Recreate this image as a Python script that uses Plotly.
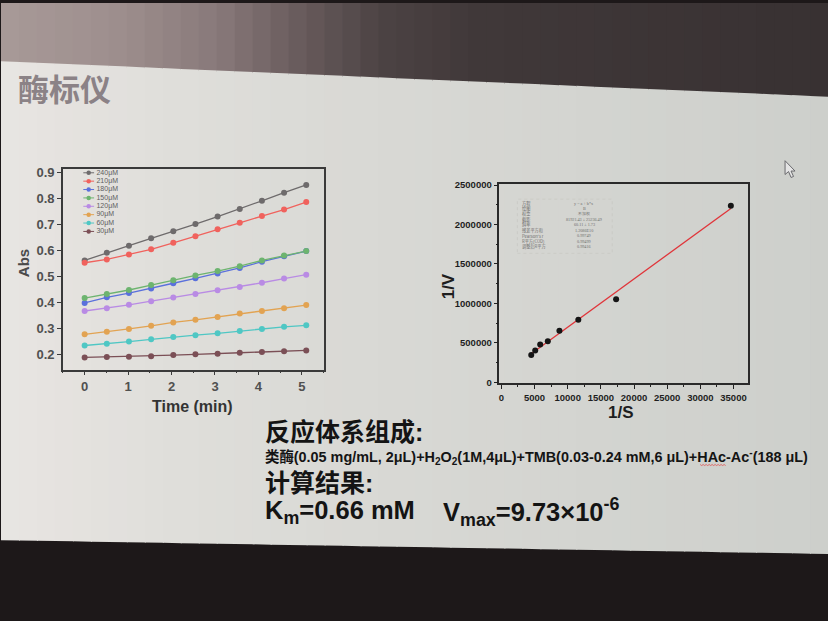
import plotly.graph_objects as go
import numpy as np

W, H = 828, 621


def PX(x):
    return x / W


def PY(y):
    return 1 - y / H


# ---------------- data: kinetics (Abs vs time) ----------------
time_min = [0, 0.51, 1.02, 1.53, 2.04, 2.55, 3.06, 3.57, 4.08, 4.59, 5.10]
series_names = ["240μM", "210μM", "180μM", "150μM", "120μM", "90μM", "60μM", "30μM"]
abs_240 = [0.561, 0.591, 0.618, 0.646, 0.673, 0.701, 0.730, 0.759, 0.791, 0.822, 0.852]
abs_210 = [0.552, 0.565, 0.584, 0.604, 0.629, 0.654, 0.681, 0.706, 0.732, 0.757, 0.786]
abs_180 = [0.397, 0.419, 0.435, 0.453, 0.473, 0.492, 0.511, 0.532, 0.556, 0.577, 0.597]
abs_150 = [0.416, 0.432, 0.447, 0.466, 0.485, 0.503, 0.520, 0.539, 0.561, 0.580, 0.597]
abs_120 = [0.366, 0.377, 0.390, 0.404, 0.418, 0.432, 0.446, 0.459, 0.475, 0.491, 0.506]
abs_90 = [0.276, 0.286, 0.297, 0.309, 0.322, 0.332, 0.343, 0.356, 0.366, 0.377, 0.389]
abs_60 = [0.233, 0.240, 0.248, 0.257, 0.266, 0.273, 0.280, 0.289, 0.297, 0.305, 0.311]
abs_30 = [0.187, 0.189, 0.190, 0.192, 0.196, 0.199, 0.201, 0.205, 0.208, 0.211, 0.214]
series_values = [abs_240, abs_210, abs_180, abs_150, abs_120, abs_90, abs_60, abs_30]
series_colors = ["#6e6b6c", "#f0625d", "#5a70dc", "#6db46f", "#b98be4", "#e2a352", "#4fc7c4", "#7b4f56"]

left_x_ticks = [0, 1, 2, 3, 4, 5]
left_y_ticks = [0.2, 0.3, 0.4, 0.5, 0.6, 0.7, 0.8, 0.9]

# ---------------- data: Lineweaver-Burk ----------------
inv_S = [4500, 5100, 5850, 7000, 8750, 11600, 17300, 34600]
inv_V = [345800, 404000, 479000, 521000, 654000, 791700, 1054000, 2237500]
right_x_ticks = [0, 5000, 10000, 15000, 20000, 25000, 30000, 35000]
right_y_ticks = [0, 500000, 1000000, 1500000, 2000000, 2500000]

fit_table_labels = ["方程", "绘图", "权重", "截距", "斜率", "残差平方和", "Pearson's r", "R平方(COD)", "调整后R平方"]
fit_table_values = ["y = a + b*x", "B", "不加权", "81921.43 ± 25236.49", "60.11 ± 1.73",
                    "1.2086E10", "0.99749", "0.99499", "0.99416"]

fig = go.Figure()

# kinetic curves
for name, vals, col in zip(series_names, series_values, series_colors):
    fig.add_trace(go.Scatter(x=time_min, y=vals, mode="lines+markers", name=name,
                             line=dict(color=col, width=1.3),
                             marker=dict(color=col, size=6),
                             xaxis="x", yaxis="y", showlegend=False))

# custom compact legend (row index axis)
for i, (name, col) in enumerate(zip(series_names, series_colors)):
    fig.add_trace(go.Scatter(x=[0.04, 0.13, 0.22], y=[i, i, i], mode="lines",
                             line=dict(color=col, width=1), xaxis="x3", yaxis="y3",
                             showlegend=False, hoverinfo="skip"))
    fig.add_trace(go.Scatter(x=[0.13], y=[i], mode="markers",
                             marker=dict(color=col, size=4.5), xaxis="x3", yaxis="y3",
                             showlegend=False, hoverinfo="skip"))
    fig.add_trace(go.Scatter(x=[0.26], y=[i], mode="text", text=[name],
                             textposition="middle right",
                             textfont=dict(size=7, color="#5e5e5e", family="Liberation Sans"),
                             xaxis="x3", yaxis="y3", showlegend=False, hoverinfo="skip"))

# Lineweaver-Burk points and fit
slope, intercept = np.polyfit(inv_S, inv_V, 1)
fit_x = [min(inv_S), max(inv_S)]
fit_y = [slope * v + intercept for v in fit_x]
fig.add_trace(go.Scatter(x=fit_x, y=fit_y, mode="lines", line=dict(color="#e0353a", width=1.3),
                         xaxis="x2", yaxis="y2", showlegend=False))
fig.add_trace(go.Scatter(x=inv_S, y=inv_V, mode="markers", marker=dict(color="#151515", size=6),
                         xaxis="x2", yaxis="y2", showlegend=False))

# ---------------- background shapes ----------------
shapes = []


def hex2rgb(h):
    h = h.lstrip("#")
    return [int(h[i:i + 2], 16) for i in (0, 2, 4)]


def interp(stops, x):
    for (x0, c0), (x1, c1) in zip(stops[:-1], stops[1:]):
        if x0 <= x <= x1:
            t = (x - x0) / (x1 - x0)
            a, b = hex2rgb(c0), hex2rgb(c1)
            return "rgb(%d,%d,%d)" % tuple(round(a[k] + (b[k] - a[k]) * t) for k in range(3))
    return stops[-1][1]


def top_edge(x):
    return 57 + (93 - 57) * x / W


def bot_edge(x):
    return 543 + (557 - 543) * x / W


top_stops = [(0, "#a89a98"), (120, "#9d8e8d"), (220, "#877879"), (300, "#685b5c"),
             (380, "#4c4344"), (480, "#403839"), (828, "#383132")]
slide_stops = [(0, "#e8e5e2"), (150, "#e0dfdb"), (350, "#d9d9d5"), (600, "#d3d4d0"), (828, "#cdcfcb")]

N = 46
sw = W / N
for i in range(N):
    x0 = i * sw
    x1 = min(W, (i + 1) * sw + 1)
    xm = (x0 + x1) / 2
    path = "M %f,%f L %f,%f L %f,%f L %f,%f Z" % (
        PX(x0), PY(-2), PX(x1), PY(-2), PX(x1), PY(top_edge(x1) + 1), PX(x0), PY(top_edge(x0) + 1))
    shapes.append(dict(type="path", xref="paper", yref="paper", path=path, layer="below",
                       fillcolor=interp(top_stops, xm), line=dict(width=0)))
    path = "M %f,%f L %f,%f L %f,%f L %f,%f Z" % (
        PX(x0), PY(top_edge(x0)), PX(x1), PY(top_edge(x1)), PX(x1), PY(bot_edge(x1)), PX(x0), PY(bot_edge(x0)))
    shapes.append(dict(type="path", xref="paper", yref="paper", path=path, layer="below",
                       fillcolor=interp(slide_stops, xm), line=dict(width=0)))

# fit-table box
shapes.append(dict(type="rect", xref="paper", yref="paper", x0=PX(517), x1=PX(612), y0=PY(252), y1=PY(197),
                   line=dict(color="#c4c4c0", width=0.6, dash="dot"), layer="below"))
# spell-check wavy underline under "HAc"
wave = [(700 + k * 1.5, 466.5 + (0.8 if k % 2 else -0.2)) for k in range(18)]
shapes.append(dict(type="path", xref="paper", yref="paper",
                   path="M " + " L ".join("%f,%f" % (PX(a), PY(b)) for a, b in wave),
                   line=dict(color="#e05050", width=0.8)))
# mouse cursor
cur = [(785, 158), (785, 172), (788.5, 169), (791, 175), (793.5, 174), (791, 168.5), (795, 168.5)]
path = "M " + " L ".join("%f,%f" % (PX(a), PY(b)) for a, b in cur) + " Z"
shapes.append(dict(type="path", xref="paper", yref="paper", path=path,
                   fillcolor="#e4e4e4", line=dict(color="#6a6a6e", width=1)))

# ---------------- annotations ----------------
ann = []
bold_cjk = "Liberation Sans, Noto Sans CJK SC"


def add_text(x, y, text, size, color="#141414", xanchor="left", textangle=0, family=bold_cjk, weight="bold"):
    ann.append(dict(x=PX(x), y=PY(y), xref="paper", yref="paper", text=text, showarrow=False,
                    xanchor=xanchor, yanchor="middle", textangle=textangle,
                    font=dict(size=size, color=color, family=family, weight=weight)))


add_text(15, 84, "酶标仪", 31, color="#8b8286", family="Noto Sans CJK SC")
add_text(22, 262, "Abs", 15, color="#4a4a4a", xanchor="center", textangle=-90)
add_text(192, 407, "Time (min)", 16, color="#333333", xanchor="center")
add_text(448, 285, "1/V", 17, color="#1e1e1e", xanchor="center", textangle=-90)
add_text(621, 413, "1/S", 17, color="#1e1e1e", xanchor="center")

add_text(262, 433, "反应体系组成:", 25)
add_text(262, 459, "类酶(0.05 mg/mL, 2μL)+H<sub>2</sub>O<sub>2</sub>(1M,4μL)+TMB(0.03-0.24 mM,6 μL)+HAc-Ac<sup>-</sup>(188 μL)", 14.4)
add_text(262, 485, "计算结果:", 25)
add_text(262, 514, "K<sub>m</sub>=0.66 mM", 25.5)
add_text(441, 514, "V<sub>max</sub>=9.73×10<sup>-6</sup>", 25.5)

# fit table text
for i, (lab, val) in enumerate(zip(fit_table_labels, fit_table_values)):
    yy = 201 + i * 5.5
    add_text(520, yy, lab, 4.2, color="#6d6d6d", family="Noto Sans CJK SC", weight="normal")
    add_text(584, yy, val, 4.2, color="#6d6d6d", xanchor="center", family="Liberation Serif", weight="normal")

fig.update_layout(
    width=W, height=H, margin=dict(l=0, r=0, t=0, b=0),
    paper_bgcolor="#1d1819", plot_bgcolor="rgba(0,0,0,0)",
    showlegend=False, shapes=shapes, annotations=ann,
    xaxis=dict(domain=[PX(62), PX(323)], range=[-0.5, 5.5], tickvals=left_x_ticks,
               ticks="outside", ticklen=4, tickwidth=1.2, tickcolor="#3a3a3a",
               minor=dict(tickvals=[-0.5, 0.5, 1.5, 2.5, 3.5, 4.5, 5.5], ticks="outside", ticklen=2, tickcolor="#3a3a3a"),
               showline=True, mirror=True, linecolor="#3a3a3a", linewidth=1.5,
               showgrid=False, zeroline=False,
               tickfont=dict(size=13, color="#505050", family="Liberation Sans", weight="bold"), anchor="y"),
    yaxis=dict(domain=[PY(370), PY(166)], range=[0.14, 0.915], tickvals=left_y_ticks,
               tickformat=".1f", ticks="outside", ticklen=4, tickwidth=1.2, tickcolor="#3a3a3a",
               showline=True, mirror=True, linecolor="#3a3a3a", linewidth=1.5,
               showgrid=False, zeroline=False,
               tickfont=dict(size=13, color="#505050", family="Liberation Sans", weight="bold"), anchor="x"),
    xaxis2=dict(domain=[PX(499), PX(748)], range=[-300, 37200], tickvals=right_x_ticks,
                ticks="outside", ticklen=4, tickwidth=1.2, tickcolor="#222222",
                minor=dict(tickvals=[2500, 7500, 12500, 17500, 22500, 27500, 32500], ticks="outside",
                           ticklen=2, tickcolor="#222222"),
                showline=True, mirror=True, linecolor="#2a2a2a", linewidth=1.5,
                showgrid=False, zeroline=False, tickformat="d",
                tickfont=dict(size=9.5, color="#1e1e1e", family="Liberation Sans", weight="bold"), anchor="y2"),
    yaxis2=dict(domain=[PY(384), PY(182)], range=[-15000, 2510000], tickvals=right_y_ticks,
                ticks="outside", ticklen=4, tickwidth=1.2, tickcolor="#222222",
                minor=dict(tickvals=[250000, 750000, 1250000, 1750000, 2250000], ticks="outside",
                           ticklen=2, tickcolor="#222222"),
                showline=True, mirror=True, linecolor="#2a2a2a", linewidth=1.5,
                showgrid=False, zeroline=False, tickformat="d",
                tickfont=dict(size=9.5, color="#1e1e1e", family="Liberation Sans", weight="bold"), anchor="x2"),
    xaxis3=dict(domain=[PX(80), PX(140)], range=[0, 1], visible=False, anchor="y3"),
    yaxis3=dict(domain=[PY(234), PY(166)], range=[7.5, -0.5], visible=False, anchor="x3"),
)

fig.write_html("out.html", config={"displayModeBar": False},
               post_script="document.body.style.margin='0';document.body.style.overflow='hidden';")
